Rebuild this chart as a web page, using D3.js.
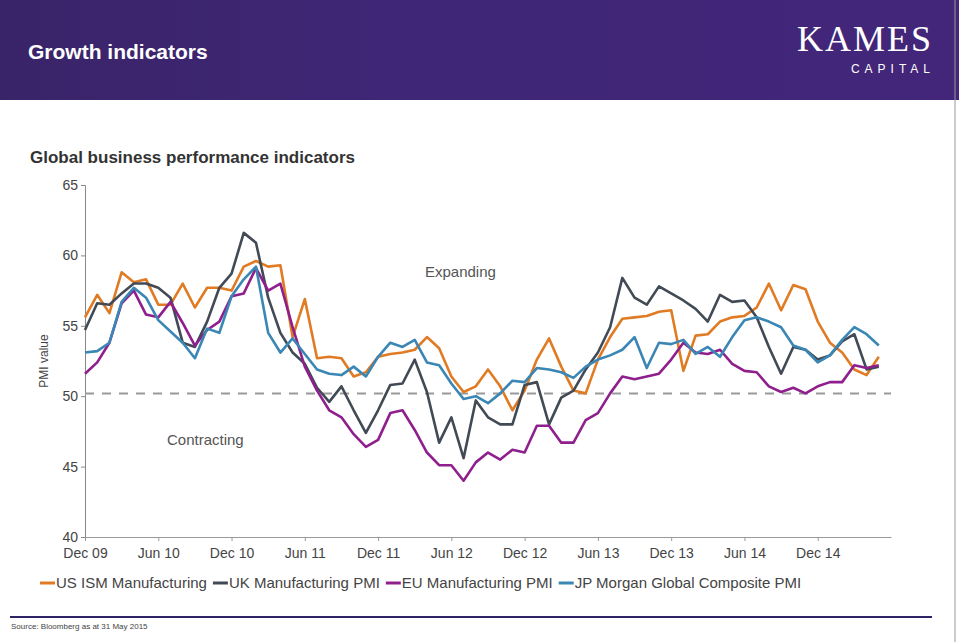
<!DOCTYPE html>
<html>
<head>
<meta charset="utf-8">
<script src="https://cdn.jsdelivr.net/npm/d3@7"></script>
<style>
body { margin: 0; background: #fff; font-family: "Liberation Sans", Arial, sans-serif; }
</style>
</head>
<body>
<svg width="959" height="642"></svg>
<script>
let tickLabels = ["Dec 09","Jun 10","Dec 10","Jun 11","Dec 11","Jun 12","Dec 12","Jun 13","Dec 13","Jun 14","Dec 14"]

let usIsm = [55.6,57.2,55.9,58.8,58.1,58.3,56.5,56.5,58.0,56.3,57.7,57.7,57.5,59.2,59.6,59.2,59.3,54.2,56.9,52.7,52.8,52.7,51.4,51.7,52.8,53.0,53.1,53.3,54.2,53.4,51.4,50.3,
  50.7,51.9,50.7,49.0,50.4,52.6,54.1,52.1,50.4,50.2,52.6,54.2,55.5,55.6,55.7,56.0,56.1,51.8,54.3,54.4,55.3,55.6,55.7,56.3,58.0,56.1,57.9,57.6,55.3,53.8,53.1,51.9,51.5,52.8]
let ukPmi = [54.7,56.6,56.5,57.3,58.0,58.0,57.7,57.0,53.8,53.5,55.3,57.7,58.7,61.6,60.9,57.0,54.5,53.1,52.3,50.6,49.6,50.7,49.0,47.4,49.0,50.8,50.9,52.6,50.3,46.7,48.5,45.6,
  49.7,48.5,48.0,48.0,50.8,51.0,48.0,49.9,50.4,51.9,53.1,54.9,58.4,57.0,56.5,57.8,57.3,56.8,56.2,55.3,57.2,56.7,56.8,55.6,53.5,51.6,53.5,53.3,52.6,52.9,53.9,54.4,51.9,52.1]
let euPmi = [51.6,52.4,53.8,56.6,57.5,55.8,55.6,56.7,55.2,53.6,54.7,55.3,57.1,57.3,59.1,57.5,58.0,54.9,52.1,50.4,49.0,48.5,47.3,46.4,46.9,48.8,49.0,47.6,46.0,45.1,45.1,44.0,
  45.3,46.0,45.5,46.2,46.0,47.9,47.9,46.7,46.7,48.3,48.8,50.2,51.4,51.2,51.4,51.6,52.6,53.8,53.1,53.0,53.3,52.3,51.8,51.7,50.7,50.3,50.6,50.2,50.7,51.0,51.0,52.2,52.0,52.2]
let jpPmi = [53.1,53.2,53.8,56.7,57.7,57.0,55.4,54.6,53.8,52.7,54.8,54.5,57.1,58.3,59.2,54.5,53.1,54.1,53.0,51.9,51.6,51.5,52.1,51.4,52.8,53.8,53.5,54.0,52.4,52.2,50.9,49.8,
  50.0,49.5,50.2,51.1,51.0,52.0,51.9,51.7,51.3,52.1,52.6,52.9,53.3,54.2,52.0,53.8,53.7,54.0,53.0,53.5,52.8,54.2,55.4,55.6,55.3,54.9,53.6,53.3,52.4,52.9,54.0,54.9,54.4,53.6]

let seriesNames = ["US ISM Manufacturing","UK Manufacturing PMI","EU Manufacturing PMI","JP Morgan Global Composite PMI"]
let seriesColors = ["#e07b24","#414a55","#8e1f8c","#3a86b4"]
let seriesValues = [usIsm, ukPmi, euPmi, jpPmi]
let yTicks = [40,45,50,55,60,65]
let dividerLevel = 50.2

let svg = d3.select("svg")

// header band
let grad = svg.append("defs").append("linearGradient").attr("id","hdr")
    .attr("x1","0").attr("y1","0").attr("x2","1").attr("y2","0")
grad.append("stop").attr("offset","0").attr("stop-color","#3a2468")
grad.append("stop").attr("offset","0.4").attr("stop-color","#3f2676")
grad.append("stop").attr("offset","1").attr("stop-color","#43267a")
svg.append("rect").attr("x",0).attr("y",0).attr("width",959).attr("height",100).attr("fill","url(#hdr)")
svg.append("text").attr("x",28).attr("y",59).attr("fill","#fff")
    .attr("font-size",21).attr("font-weight","bold").text("Growth indicators")
svg.append("text").attr("x",933).attr("y",51).attr("text-anchor","end").attr("fill","#fff")
    .attr("font-family","'Liberation Serif', serif").attr("font-size",36).attr("letter-spacing",2).text("KAMES")
svg.append("text").attr("x",935).attr("y",73).attr("text-anchor","end").attr("fill","#fff")
    .attr("font-size",12).attr("letter-spacing",5).text("CAPITAL")

svg.append("text").attr("x",30).attr("y",163).attr("fill","#333")
    .attr("font-size",17).attr("font-weight","bold").text("Global business performance indicators")

let xScale = d3.scaleLinear().domain([0, 66]).range([85, 891])
let yScale = d3.scaleLinear().domain([40, 65]).range([537, 185])

// axes
let yAxis = d3.axisLeft(yScale).tickValues(yTicks).tickSize(4)
let gy = svg.append("g").attr("transform","translate(85,0)").call(yAxis)
gy.selectAll("text").attr("font-size",14).attr("fill","#444").attr("font-family","'Liberation Sans', Arial")
gy.selectAll("line, path").attr("stroke","#888")

let xAxis = d3.axisBottom(xScale).tickValues(d3.range(0, 66, 6)).tickFormat((d, i) => tickLabels[i]).tickSize(4).tickSizeOuter(0)
let gx = svg.append("g").attr("transform","translate(0,537)").call(xAxis)
gx.selectAll("text").attr("font-size",14).attr("fill","#444").attr("dy","1.0em").attr("font-family","'Liberation Sans', Arial")
gx.selectAll("line, path").attr("stroke","#999")

svg.append("text").attr("transform","translate(48,361) rotate(-90)").attr("text-anchor","middle")
    .attr("font-size",12).attr("fill","#444").text("PMI value")

// 50 divider
svg.append("line").attr("x1",xScale(0)).attr("x2",xScale(66)).attr("y1",yScale(dividerLevel)).attr("y2",yScale(dividerLevel))
    .attr("stroke","#999").attr("stroke-width",2).attr("stroke-dasharray","9,8")

svg.append("text").attr("x",425).attr("y",277).attr("font-size",15).attr("fill","#555").text("Expanding")
svg.append("text").attr("x",167).attr("y",445).attr("font-size",15).attr("fill","#555").text("Contracting")

let line = d3.line().x((d, i) => xScale(i)).y(d => yScale(d))
seriesValues.forEach((vals, k) => {
    svg.append("path").datum(vals).attr("d", line).attr("fill","none")
        .attr("stroke", seriesColors[k]).attr("stroke-width",2.6).attr("stroke-linejoin","round")
})

// legend
let lg = svg.append("g").attr("transform","translate(0,583)")
let lx = 40
seriesNames.forEach((name, k) => {
    lg.append("line").attr("x1",lx).attr("x2",lx+15).attr("y1",0).attr("y2",0)
        .attr("stroke",seriesColors[k]).attr("stroke-width",3)
    let t = lg.append("text").attr("x",lx+16).attr("y",5).attr("font-size",15).attr("fill","#444").text(name)
    lx += 16 + t.node().getComputedTextLength() + 6
})

svg.append("line").attr("x1",10).attr("x2",932).attr("y1",617).attr("y2",617).attr("stroke","#2e2366").attr("stroke-width",2)
svg.append("text").attr("x",11).attr("y",629).attr("font-size",8).attr("fill","#444").text("Source: Bloomberg as at 31 May 2015")
svg.append("line").attr("x1",955).attr("x2",955).attr("y1",0).attr("y2",642).attr("stroke","#999")
</script>
</body>
</html>
